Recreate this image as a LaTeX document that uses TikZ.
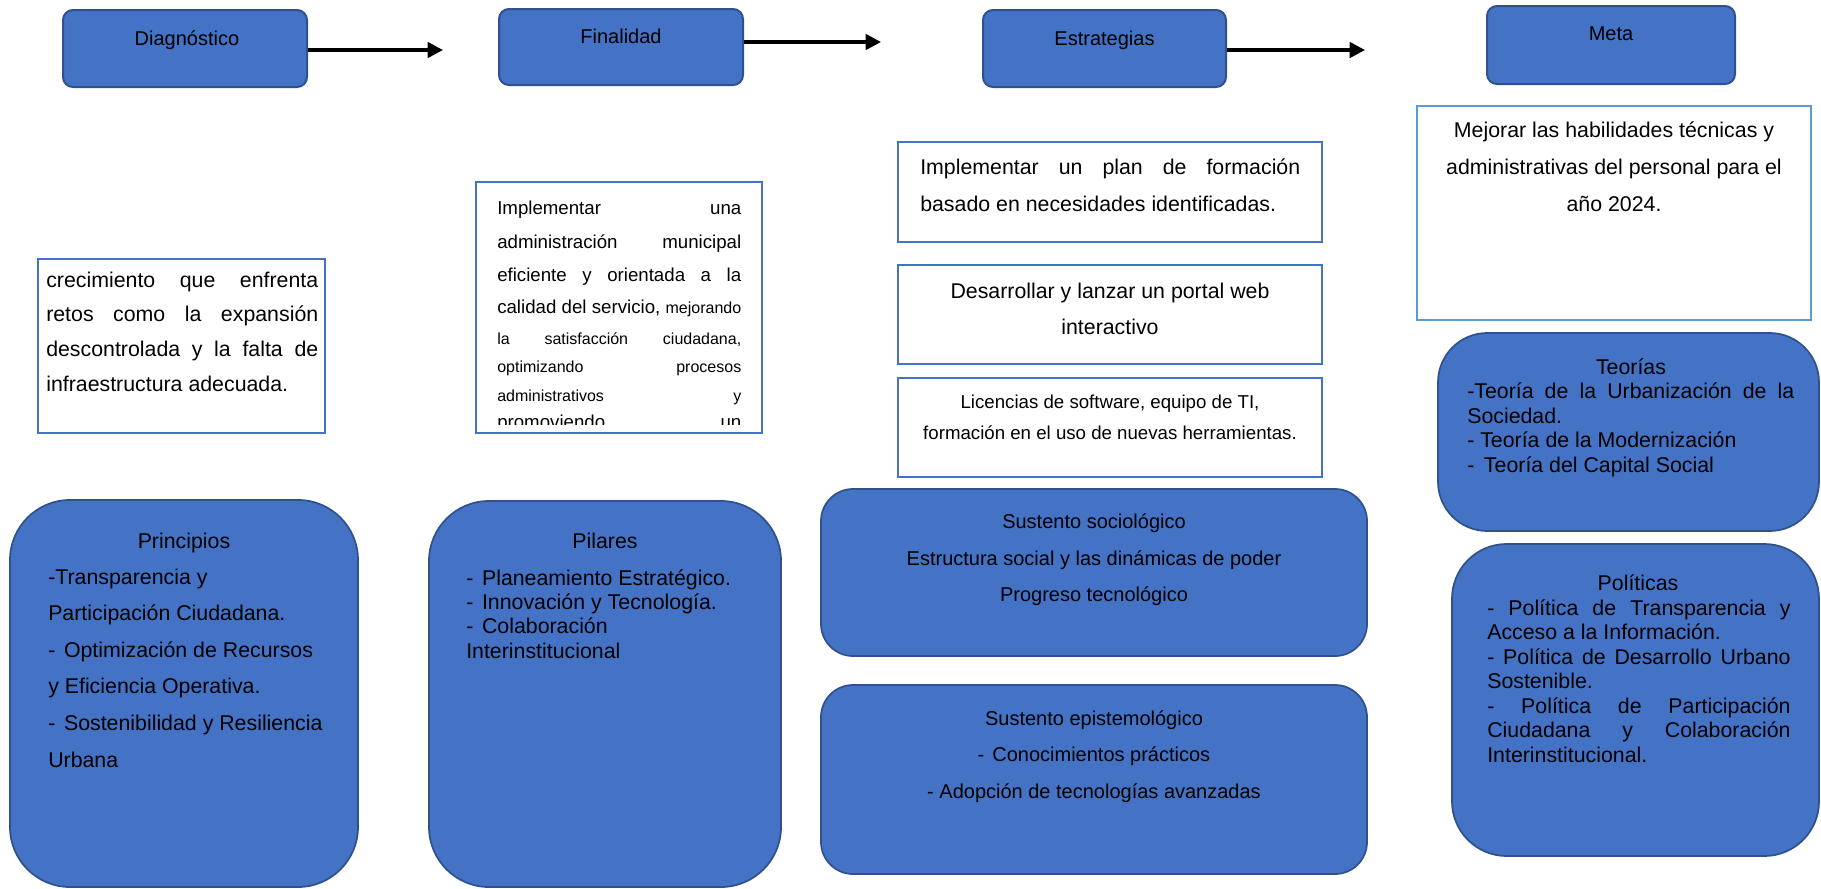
\documentclass[tikz,border=0pt]{standalone}
\usepackage{fontspec}
\setmainfont{Liberation Sans}
\usetikzlibrary{arrows.meta,fit}
\definecolor{bfill}{HTML}{4472C4}
\definecolor{bdraw}{HTML}{2F528F}
\definecolor{wdraw}{HTML}{4472C4}
\definecolor{ldraw}{HTML}{5B9BD5}
\newcommand\myJ[1]{\makebox[\linewidth][s]{#1}\par}
\newcommand\myL[1]{\makebox[\linewidth][l]{#1}\par}
\newcommand\myC[1]{\makebox[\linewidth][c]{#1}\par}
\newcommand\fs[2]{\fontsize{#1}{#2}\selectfont}
\begin{document}
\begin{tikzpicture}[x=0.75pt,y=-0.75pt,
  topbox/.style={draw=bdraw, line width=1.5pt, fill=bfill, rounded corners=7.5pt, inner sep=0pt},
  wbox/.style={draw=wdraw, line width=2.2pt, fill=white, inner sep=0pt},
  lbox/.style={wbox, draw=ldraw},
  bbox/.style={draw=bdraw, line width=1.3pt, fill=bfill, inner sep=0pt},
  txt/.style={inner sep=0pt, anchor=base west, text=black},
  ctxt/.style={inner sep=0pt, anchor=base, text=black},
  arrowline/.style={line width=2.6pt, -{Triangle[length=11.5pt,width=11.5pt]}}]
\useasboundingbox (0,0) rectangle (1821,889);
\fill[white] (0,0) rectangle (1821,889);

% top row
\node[topbox, fit={(63,10) (307,87)}] (diag) {};
\node[ctxt, font=\fs{15}{18}] (diagT) at (187,45) {Diagnóstico};
\node[topbox, fit={(499,9) (743,85)}] (fin) {};
\node[ctxt, font=\fs{15}{18}] (finT) at (621,43) {Finalidad};
\node[topbox, fit={(983,10) (1226,87)}] (estr) {};
\node[ctxt, font=\fs{15}{18}] (estrT) at (1104.5,45) {Estrategias};
\node[topbox, fit={(1487,6) (1735,84)}] (meta) {};
\node[ctxt, font=\fs{15}{18}] (metaT) at (1611,40) {Meta};

\coordinate (a1) at (443,50);
\coordinate (a2) at (881,42);
\coordinate (a3) at (1365,50);
\draw[arrowline] (diag.east |- a1) -- (a1);
\draw[arrowline] (fin.east |- a2) -- (a2);
\draw[arrowline] (estr.east |- a3) -- (a3);

% Diagnostico white box
\node[wbox, fit={(38,259) (325,433)}] (diagW) {};
\node[txt] (diagWT) at (46,287) {\parbox[t]{204pt}{\lineskiplimit=-\maxdimen\fs{16}{26}%
\myJ{crecimiento que enfrenta}%
\myJ{retos como la expansión}%
\myJ{descontrolada y la falta de}%
\myL{infraestructura adecuada.}}};

% Finalidad white box
\node[wbox, fit={(476,182) (762,433)}] (finW) {};
\begin{scope}
\clip (479,185) rectangle (759,424);
\node[txt] (finWT) at (497,214) {\parbox[t]{183pt}{\lineskiplimit=-\maxdimen
\fs{14}{25.5}\myJ{Implementar una}%
\fs{14}{25.5}\myJ{administración municipal}%
\fs{14}{24.75}\myJ{eficiente y orientada a la}%
\fs{14}{24}\myJ{calidad del servicio, {\fs{12}{14}mejorando}}%
\fs{12}{23.25}\myJ{la satisfacción ciudadana,}%
\fs{12}{21}\myJ{optimizando procesos}%
\fs{12}{21.75}\myJ{administrativos y}%
\fs{14}{20.25}\myJ{promoviendo un}}};
\end{scope}

% Estrategias white boxes
\node[wbox, fit={(898,142) (1322,242)}] (eA) {};
\node[txt] (eAT) at (920,174) {\parbox[t]{285pt}{\lineskiplimit=-\maxdimen\fs{16}{27.75}%
\myJ{Implementar un plan de formación}%
\myL{basado en necesidades identificadas.}}};
\node[wbox, fit={(898,265) (1322,364)}] (eB) {};
\node[ctxt] (eBT) at (1110,298) {\parbox[t]{300pt}{\lineskiplimit=-\maxdimen\fs{16}{27}%
\myC{Desarrollar y lanzar un portal web}%
\myC{interactivo}}};
\node[wbox, fit={(898,378) (1322,477)}] (eC) {};
\node[ctxt] (eCT) at (1110,408) {\parbox[t]{300pt}{\lineskiplimit=-\maxdimen\fs{14}{23.25}%
\myC{Licencias de software, equipo de TI,}%
\myC{formación en el uso de nuevas herramientas.}}};

% Meta white box
\node[lbox, fit={(1417,106) (1811,320)}] (metaW) {};
\node[ctxt] (metaWT) at (1614,137) {\parbox[t]{290pt}{\lineskiplimit=-\maxdimen\fs{16}{27.75}%
\myC{Mejorar las habilidades técnicas y}%
\myC{administrativas del personal para el}%
\myC{año 2024.}}};

% Teorias
\node[bbox, rounded corners=37pt, fit={(1438,333) (1819,531)}] (teo) {};
\node[ctxt, font=\fs{16}{18.4}] (teoT) at (1631,374) {Teorías};
\node[txt] (teoL) at (1467,398.5) {\parbox[t]{245.25pt}{\lineskiplimit=-\maxdimen\fs{16}{18.4}%
\myJ{-Teoría de la Urbanización de la}%
\myL{Sociedad.}%
\myL{- Teoría de la Modernización}%
\myL{-\hspace{7.2pt}Teoría del Capital Social}}};

% Politicas
\node[bbox, rounded corners=41pt, fit={(1452,544) (1819,856)}] (pol) {};
\node[ctxt, font=\fs{16}{18.4}] (polT) at (1638,590) {Políticas};
\node[txt] (polL) at (1487,615) {\parbox[t]{227.5pt}{\lineskiplimit=-\maxdimen\fs{16}{18.4}%
\myJ{- Política de Transparencia y}%
\myL{Acceso a la Información.}%
\myJ{- Política de Desarrollo Urbano}%
\myL{Sostenible.}%
\myJ{- Política de Participación}%
\myJ{Ciudadana y Colaboración}%
\myL{Interinstitucional.}}};

% Principios
\node[bbox, rounded corners=45pt, fit={(10,500) (358,887)}] (pri) {};
\node[ctxt, font=\fs{16}{18.4}] (priT) at (184,548.5) {Principios};
\node[txt] (priL) at (48,584) {\parbox[t]{290pt}{\lineskiplimit=-\maxdimen\fs{16}{27.45}%
\myL{-Transparencia y}%
\myL{Participación Ciudadana.}%
\myL{-\hspace{6.5pt}Optimización de Recursos}%
\myL{y Eficiencia Operativa.}%
\myL{-\hspace{6.5pt}Sostenibilidad y Resiliencia}%
\myL{Urbana}}};

% Pilares
\node[bbox, rounded corners=45pt, fit={(429,501) (781,887)}] (pil) {};
\node[ctxt, font=\fs{16}{18.4}] (pilT) at (605,548.5) {Pilares};
\node[txt] (pilL) at (466,585) {\parbox[t]{290pt}{\lineskiplimit=-\maxdimen\fs{16}{18.3}%
\myL{-\hspace{6.5pt}Planeamiento Estratégico.}%
\myL{-\hspace{6.5pt}Innovación y Tecnología.}%
\myL{-\hspace{6.5pt}Colaboración}%
\myL{Interinstitucional}}};

% Sustentos
\node[bbox, rounded corners=24pt, fit={(821,489) (1367,656)}] (soc) {};
\node[ctxt] (socT) at (1094,528.5) {\parbox[t]{400pt}{\lineskiplimit=-\maxdimen\fs{15}{27.5}%
\myC{Sustento sociológico}%
\myC{Estructura social y las dinámicas de poder}%
\myC{Progreso tecnológico}}};
\node[bbox, rounded corners=24pt, fit={(821,685) (1367,874)}] (epi) {};
\node[ctxt] (epiT) at (1094,725) {\parbox[t]{400pt}{\lineskiplimit=-\maxdimen\fs{15}{27.5}%
\myC{Sustento epistemológico}%
\myC{-\hspace{6pt}Conocimientos prácticos}%
\myC{- Adopción de tecnologías avanzadas}}};
\end{tikzpicture}
\end{document}
